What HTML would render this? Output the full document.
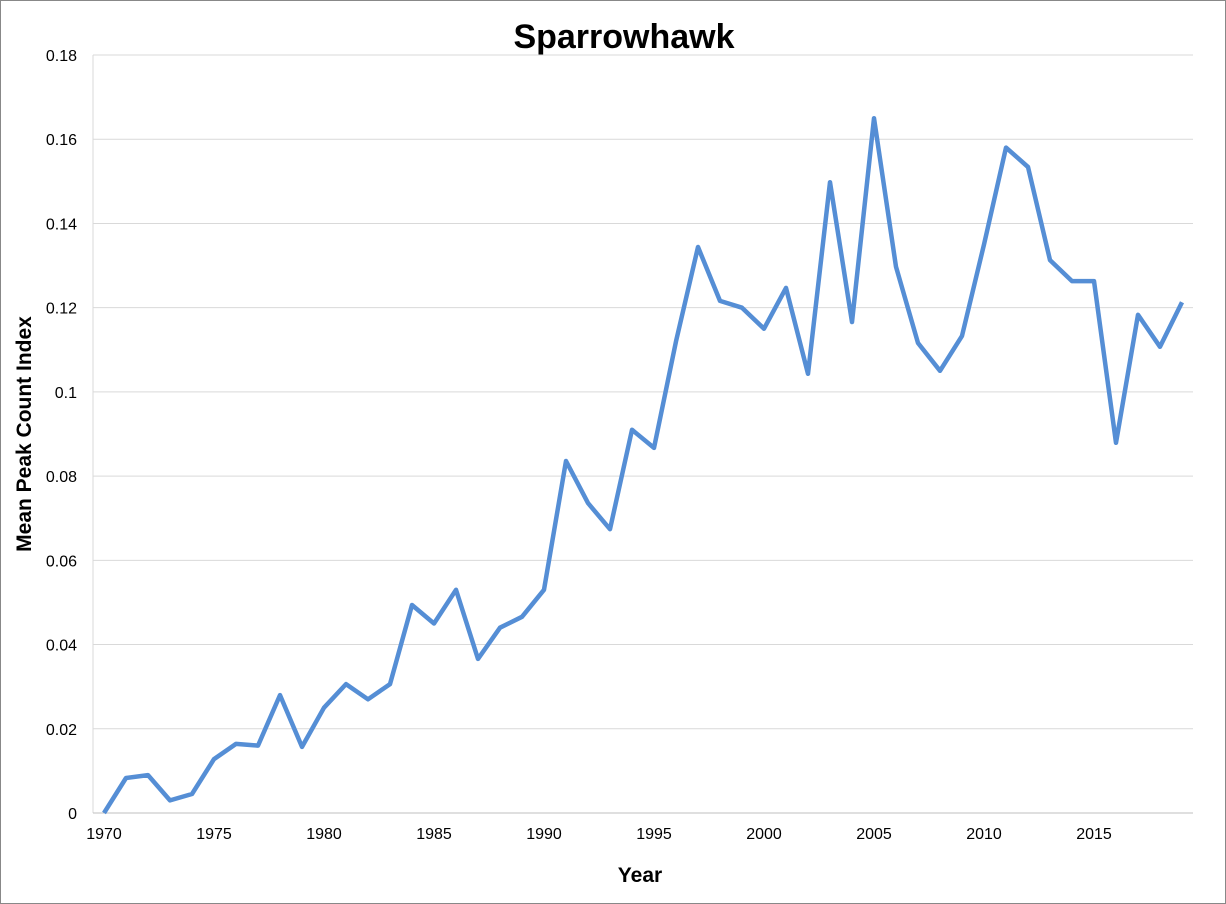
<!DOCTYPE html>
<html><head><meta charset="utf-8"><style>
html,body{margin:0;padding:0;background:#fff}
svg{display:block;font-family:"Liberation Sans",sans-serif}
</style></head><body>
<svg width="1226" height="904" viewBox="0 0 1226 904">
<rect x="0.5" y="0.5" width="1225" height="903" fill="#fff" stroke="#888"/>
<text x="624" y="48" text-anchor="middle" font-size="34" font-weight="bold">Sparrowhawk</text>
<g id="grid"></g>
<g id="yt"></g>
<g id="xt"></g>
<line x1="93" y1="55" x2="93" y2="813" stroke="#d9d9d9"/>
<line x1="93" y1="813" x2="1193" y2="813" stroke="#bfbfbf"/>
<path id="line" fill="none" stroke="#558ed5" stroke-width="4.5" stroke-linejoin="round"/>
<text x="640" y="882" text-anchor="middle" font-size="21" font-weight="bold">Year</text>
<text transform="translate(31,434) rotate(-90)" text-anchor="middle" font-size="21" font-weight="bold">Mean Peak Count Index</text>
</svg>
<script>
const years = [];
for (let y = 1970; y <= 2019; y++) years.push(y);
const values = [0,0.0083,0.009,0.003,0.0045,0.0128,0.0164,0.016,0.028,0.0157,0.025,0.0306,0.027,0.0306,0.0494,0.045,0.053,0.0366,0.044,0.0466,0.053,0.0836,0.0736,0.0674,0.091,0.0867,0.112,0.1344,0.1216,0.12,0.115,0.1247,0.1043,0.1498,0.1166,0.165,0.1297,0.1116,0.105,0.1133,0.135,0.158,0.1534,0.1313,0.1263,0.1263,0.0879,0.1183,0.1107,0.1213];
const yTicks = [0,0.02,0.04,0.06,0.08,0.1,0.12,0.14,0.16,0.18];
const xTickLabels = [1970,1975,1980,1985,1990,1995,2000,2005,2010,2015];

const L=93,R=1193,T=55,B=813,ymax=0.18;
const step=(R-L)/years.length;
const xs=yr=>L+step*(yr-years[0]+0.5);
const ys=v=>B-(v/ymax)*(B-T);
const NS="http://www.w3.org/2000/svg";
const grid=document.getElementById('grid'),yt=document.getElementById('yt'),xt=document.getElementById('xt');
yTicks.forEach(v=>{
  if(v>0){const l=document.createElementNS(NS,'line');
  l.setAttribute('x1',L);l.setAttribute('x2',R);l.setAttribute('y1',ys(v));l.setAttribute('y2',ys(v));
  l.setAttribute('stroke','#d9d9d9');
  
  
  grid.appendChild(l);}
  const t=document.createElementNS(NS,'text');
  t.setAttribute('x',77);t.setAttribute('y',ys(v)+6);t.setAttribute('text-anchor','end');t.setAttribute('font-size','16');
  t.textContent=String(v);
  
  
  yt.appendChild(t);
});
xTickLabels.forEach(yr=>{
  const t=document.createElementNS(NS,'text');
  t.setAttribute('x',xs(yr));t.setAttribute('y',839);t.setAttribute('text-anchor','middle');t.setAttribute('font-size','16');
  t.textContent=String(yr);
  
  
  xt.appendChild(t);
});
document.getElementById('line').setAttribute('d',values.map((v,i)=>(i?'L':'M')+xs(years[i]).toFixed(1)+','+ys(v).toFixed(1)).join(' '));
</script>
</body></html>
